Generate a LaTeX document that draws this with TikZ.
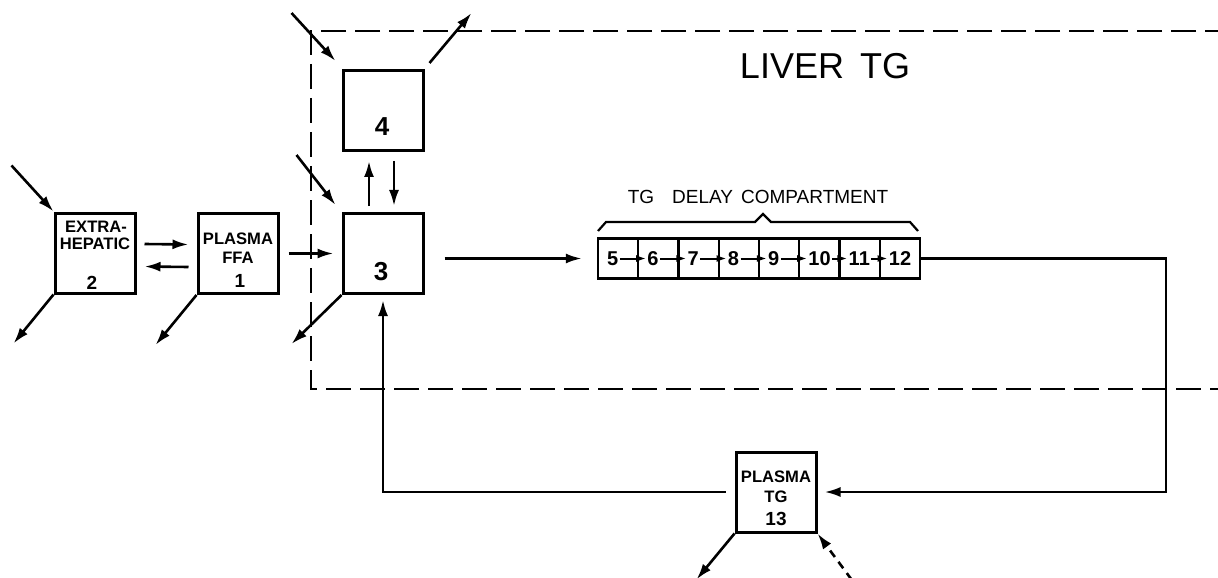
\documentclass[tikz,border=0pt]{standalone}
\usepackage{fontspec}
\setmainfont{Liberation Sans}
\usetikzlibrary{arrows.meta}
\tikzset{
  comp/.style={draw,line width=1.5pt,minimum width=40pt,minimum height=40pt,inner sep=0pt},
  cell/.style={draw,line width=1.2pt,minimum width=20.1pt,minimum height=20pt,inner sep=0pt},
  flow/.style={line width=1.3pt,-{Latex[length=8pt,width=5pt]}},
  boxtxt/.style={font=\fontsize{8.3}{9}\selectfont\bfseries,inner sep=0pt},
  boxnum/.style={font=\fontsize{9.5}{10}\selectfont\bfseries,inner sep=0pt},
  bignum/.style={font=\fontsize{13}{14}\selectfont\bfseries,inner sep=0pt},
  cellnum/.style={font=\fontsize{10}{11}\selectfont\bfseries,inner sep=0.5pt,anchor=west},
  liver/.style={line width=1.4pt,dash pattern=on 12.5pt off 4.5pt},
}
\begin{document}
\begin{tikzpicture}[x=0.5pt,y=-0.5pt]
\useasboundingbox (0,0) rectangle (1218,577);
% liver boundary
\draw[liver] (1230,31) -- (311,31) -- (311,389) -- (1230,389);
\node[font=\fontsize{18}{20}\selectfont,inner sep=0pt] (livertg) at (825,66) {LIVER\hspace{8pt}TG};
% compartments
\node[comp] (c2) at (95,253) {};
\node[comp] (c1) at (238,253.5) {};
\node[comp] (c3) at (383,253.5) {};
\node[comp] (c4) at (383,110.5) {};
\node[comp] (c13) at (776,492) {};
\node[boxtxt] (c2a) at (96,227) {EXTRA-};
\node[boxtxt] (c2b) at (95,244) {HEPATIC};
\node[boxnum] (c2n) at (92,283) {2};
\node[boxtxt] (c1a) at (238,239) {PLASMA};
\node[boxtxt] (c1b) at (238,258) {FFA};
\node[boxnum] (c1n) at (240,281) {1};
\node[bignum] (c3n) at (381,272) {3};
\node[bignum] (c4n) at (382,127) {4};
\node[boxtxt] (c13a) at (776,476.5) {PLASMA};
\node[boxtxt] (c13b) at (776,497) {TG};
\node[boxnum] (c13n) at (776,519) {13};
% delay compartment
\foreach \k in {5,...,12} {
  \node[cell] (c\k) at ({618.125+(\k-5)*40.25},258.5) {};
  \node[cellnum] (n\k) at ([xshift=4.5pt]c\k.west) {\k};
}
\foreach \j/\k in {5/6,6/7,7/8,8/9,9/10,10/11,11/12}
  \draw[line width=1pt,-{Latex[length=5pt,width=3.5pt]}] (n\j) -- (n\k);
\draw[line width=1.1pt] (598,231) -- (606,222) -- (755,222) -- (763,214) -- (771,222) -- (910,222) -- (918,231);
\node[font=\fontsize{9.5}{10}\selectfont,inner sep=0pt] (delay) at (758,197) {TG\hspace{9pt}DELAY\hspace{4pt}COMPARTMENT};
% flows
\draw[flow] ([yshift=4.5pt]c2.east) ++(4pt,0) -- ([yshift=4.5pt,xshift=-4pt]c1.west);
\draw[flow] ([yshift=-6.75pt,xshift=-4pt]c1.west) -- ([yshift=-6.75pt,xshift=4pt]c2.east);
\draw[flow] ([xshift=4.5pt]c1.east) -- ([xshift=-4pt]c3.west);
\draw[flow] ([xshift=-7pt,yshift=3pt]c3.north) -- ([xshift=-7pt,yshift=-4.5pt]c4.south);
\draw[flow] ([xshift=5.5pt,yshift=-4.5pt]c4.south) -- ([xshift=5.5pt,yshift=3pt]c3.north);
\draw[flow] (c3.east |- c5.west) ++(10pt,0) -- ([xshift=-7.5pt]c5.west);
\coordinate (turn) at (1166,0);
\draw[flow] (c12.east) -| (turn |- c13.east) -- ([xshift=3.5pt]c13.east);
\draw[flow] ([xshift=-4.5pt]c13.west) -| ([yshift=-2.5pt]c3.south);
% inputs and losses
\draw[flow] (c2.north west) ++(-42,-46) -- ++(42,46);
\draw[flow] (c2.south west) -- ++(-40,49);
\draw[flow] (c1.south west) -- ++(-41,50);
\draw[flow] (c3.north west) ++(-45,-57) -- ++(39,50);
\draw[flow] (c3.south west) -- ++(-50,49);
\draw[flow] (c4.north west) ++(-50,-56) -- ++(44,48);
\draw[flow] (c4.north east) ++(5,-6) -- ++(42,-50);
\draw[flow] (c13.south west) -- ++(-38,46);
\draw[flow,dash pattern=on 4pt off 3pt] (c13.south east) ++(34,46) -- ++(-34,-46);
\end{tikzpicture}
\end{document}
